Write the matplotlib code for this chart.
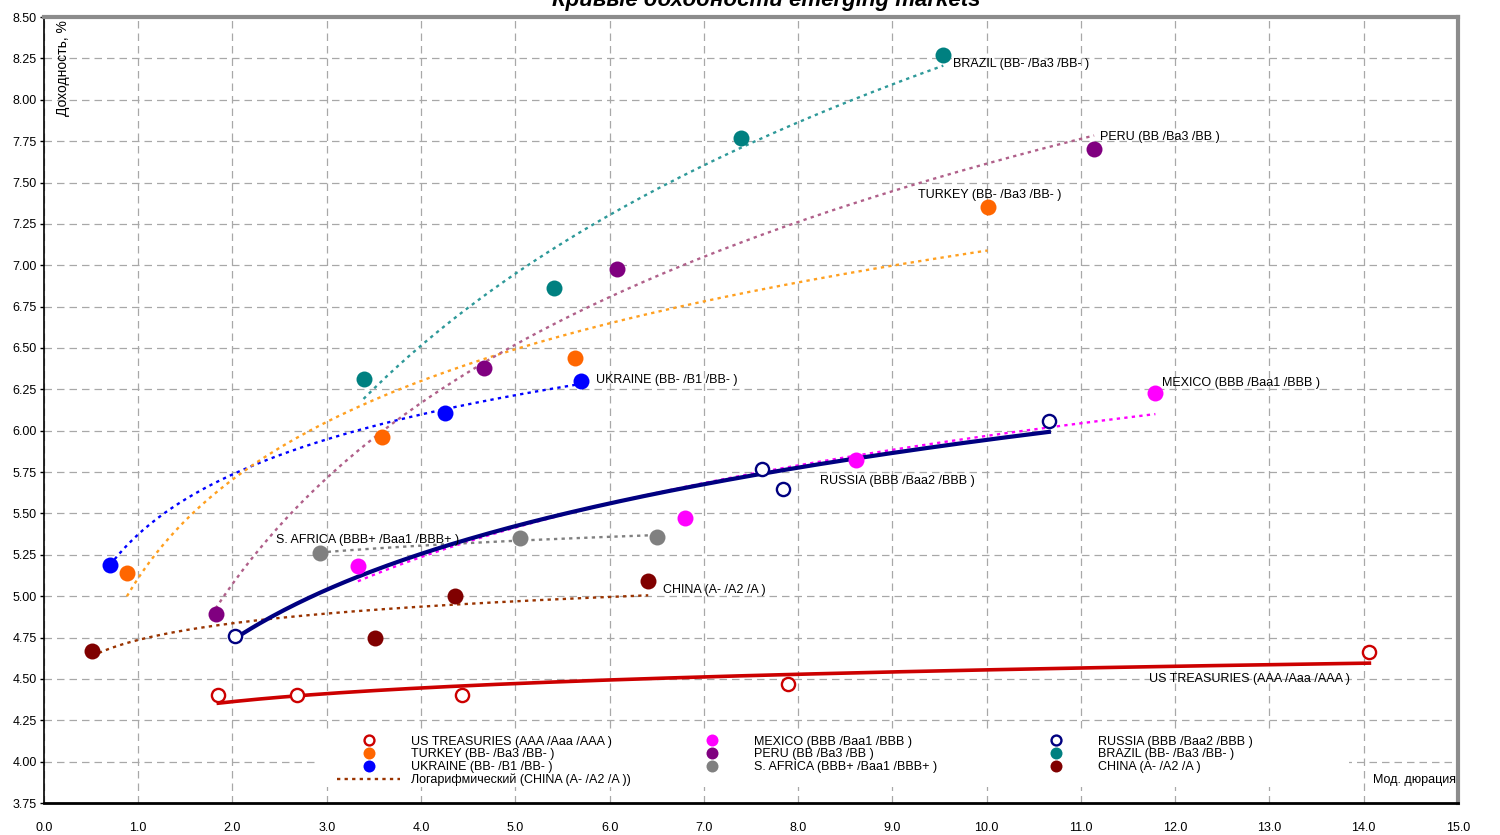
import matplotlib
matplotlib.use("Agg")

import matplotlib.pyplot as plt
from matplotlib.legend import Legend
from matplotlib.patches import Rectangle
import numpy as np

plt.rcParams['font.family'] = ['Liberation Sans', 'DejaVu Sans']

# modified duration / yield, % per issuer
us_x = [1.85, 2.68, 4.43, 7.89, 14.06]
us_y = [4.40, 4.40, 4.40, 4.47, 4.66]
russia_x = [2.03, 7.62, 7.84, 10.66]
russia_y = [4.76, 5.77, 5.65, 6.06]
mexico_x = [3.33, 6.80, 8.61, 11.79]
mexico_y = [5.18, 5.47, 5.82, 6.23]
safrica_x = [2.93, 5.05, 6.50]
safrica_y = [5.26, 5.35, 5.36]
china_x = [0.51, 3.51, 4.36, 6.41]
china_y = [4.67, 4.75, 5.00, 5.09]
ukraine_x = [0.70, 4.25, 5.70]
ukraine_y = [5.19, 6.11, 6.30]
turkey_x = [0.88, 3.59, 5.63, 10.01]
turkey_y = [5.14, 5.96, 6.44, 7.35]
peru_x = [1.82, 4.67, 6.08, 11.14]
peru_y = [4.89, 6.38, 6.98, 7.70]
brazil_x = [3.39, 5.41, 7.39, 9.54]
brazil_y = [6.31, 6.86, 7.77, 8.27]

names = {
    'us': 'US TREASURIES (AAA /Aaa /AAA )',
    'russia': 'RUSSIA (BBB /Baa2 /BBB )',
    'mexico': 'MEXICO (BBB /Baa1 /BBB )',
    'safrica': 'S. AFRICA (BBB+ /Baa1 /BBB+ )',
    'china': 'CHINA (A- /A2 /A )',
    'ukraine': 'UKRAINE (BB- /B1 /BB- )',
    'turkey': 'TURKEY (BB- /Ba3 /BB- )',
    'peru': 'PERU (BB /Ba3 /BB )',
    'brazil': 'BRAZIL (BB- /Ba3 /BB- )',
}


def log_trend(x, y):
    k, b = np.polyfit(np.log(x), y, 1)
    xs = np.linspace(min(x), max(x), 200)
    return xs, b + k * np.log(xs)


fig = plt.figure(figsize=(15, 8.35), dpi=100)
ax = fig.add_axes([0.0293, 0.0383, 0.9427, 0.9413])

dot = (0, (1.4, 1.8))

# trend lines
for x, y, c in [(mexico_x, mexico_y, '#FF00FF'),
                (safrica_x, safrica_y, '#808080'),
                (ukraine_x, ukraine_y, '#0000FF'),
                (turkey_x, turkey_y, '#FFA020'),
                (peru_x, peru_y, '#B0608A'),
                (brazil_x, brazil_y, '#2E9999')]:
    xs, ys = log_trend(x, y)
    ax.plot(xs, ys, color=c, lw=1.7, ls=dot, zorder=2)

xs, ys = log_trend(china_x, china_y)
china_trend, = ax.plot(xs, ys, color='#993300', lw=1.7, ls=dot, zorder=2,
                       label='Логарифмический (CHINA (A- /A2 /A ))')
xs, ys = log_trend(russia_x, russia_y)
ax.plot(xs, ys, color='#000080', lw=3.0, zorder=2)
xs, ys = log_trend(us_x, us_y)
ax.plot(xs, ys, color='#CC0000', lw=2.6, zorder=2)

# points
h = {}
h['us'], = ax.plot(us_x, us_y, 'o', ms=9.5, mfc='white', mec='#CC0000', mew=1.7,
                   ls='none', zorder=4, label=names['us'])
h['russia'], = ax.plot(russia_x, russia_y, 'o', ms=9.5, mfc='white', mec='#000080',
                       mew=1.7, ls='none', zorder=4, label=names['russia'])
for key, x, y, c in [('mexico', mexico_x, mexico_y, '#FF00FF'),
                     ('safrica', safrica_x, safrica_y, '#808080'),
                     ('china', china_x, china_y, '#800000'),
                     ('ukraine', ukraine_x, ukraine_y, '#0000FF'),
                     ('turkey', turkey_x, turkey_y, '#FF6600'),
                     ('peru', peru_x, peru_y, '#800080'),
                     ('brazil', brazil_x, brazil_y, '#008080')]:
    h[key], = ax.plot(x, y, 'o', ms=11.5, color=c, mec='none', ls='none', zorder=4,
                      label=names[key])

# point labels
labels_pos = {
    'brazil': (9.64, 8.216), 'peru': (11.20, 7.775), 'turkey': (9.27, 7.424),
    'ukraine': (5.855, 6.306), 'mexico': (11.86, 6.288), 'russia': (8.23, 5.696),
    'safrica': (2.46, 5.339), 'china': (6.566, 5.037), 'us': (11.72, 4.499),
}
for key, (lx, ly) in labels_pos.items():
    ax.text(lx, ly, names[key], fontsize=9, ha='left', va='center', zorder=5)

ax.set_xlim(0, 15)
ax.set_ylim(3.75, 8.5)
ax.set_xticks(np.arange(0, 15.01, 1.0))
ax.set_xticklabels(['%.1f' % v for v in np.arange(0, 15.01, 1.0)])
ax.set_yticks(np.arange(3.75, 8.51, 0.25))
ax.set_yticklabels(['%.2f' % v for v in np.arange(3.75, 8.51, 0.25)])
ax.tick_params(axis='x', length=0, pad=14, labelsize=9)
ax.tick_params(axis='y', length=3, width=1, pad=2, labelsize=9)
ax.grid(True, color='#a8a8a8', ls=(0, (6, 4)), lw=0.9, zorder=0)
ax.set_axisbelow(True)

for s in ['top', 'right']:
    ax.spines[s].set_color('#8c8c8c')
    ax.spines[s].set_linewidth(3)
ax.spines['left'].set_linewidth(1.2)
ax.spines['bottom'].set_linewidth(2)

ax.text(0.0135, 0.996, 'Доходность, %', transform=ax.transAxes, rotation=90,
        ha='center', va='top', fontsize=10)
ax.text(14.98, 3.89, 'Мод. дюрация', ha='right', va='center', fontsize=9)

# legend: white block with three columns
ax.add_patch(Rectangle((0.192, 0.021), 0.731, 0.073, transform=ax.transAxes,
                       facecolor='white', edgecolor='none', zorder=5))
columns = [(['us', 'turkey', 'ukraine', None], 0.2075),
           (['mexico', 'peru', 'safrica'], 0.450),
           (['russia', 'brazil', 'china'], 0.6935)]
for keys, x0 in columns:
    handles = [china_trend if k is None else h[k] for k in keys]
    leg = Legend(ax, handles, [hd.get_label() for hd in handles], ncol=1,
                 loc='upper left', bbox_to_anchor=(x0, 0.0855), fontsize=9,
                 frameon=False, markerscale=0.75, handlelength=5,
                 handletextpad=0.9, labelspacing=0.05, borderpad=0,
                 borderaxespad=0)
    leg.set_zorder(6)
    ax.add_artist(leg)

fig.text(0.511, 0.9928, 'Кривые доходности emerging markets', ha='center',
         va='baseline', fontsize=16, fontweight='bold', fontstyle='italic')

fig.savefig('out.png', dpi=100)
plt.close(fig)
